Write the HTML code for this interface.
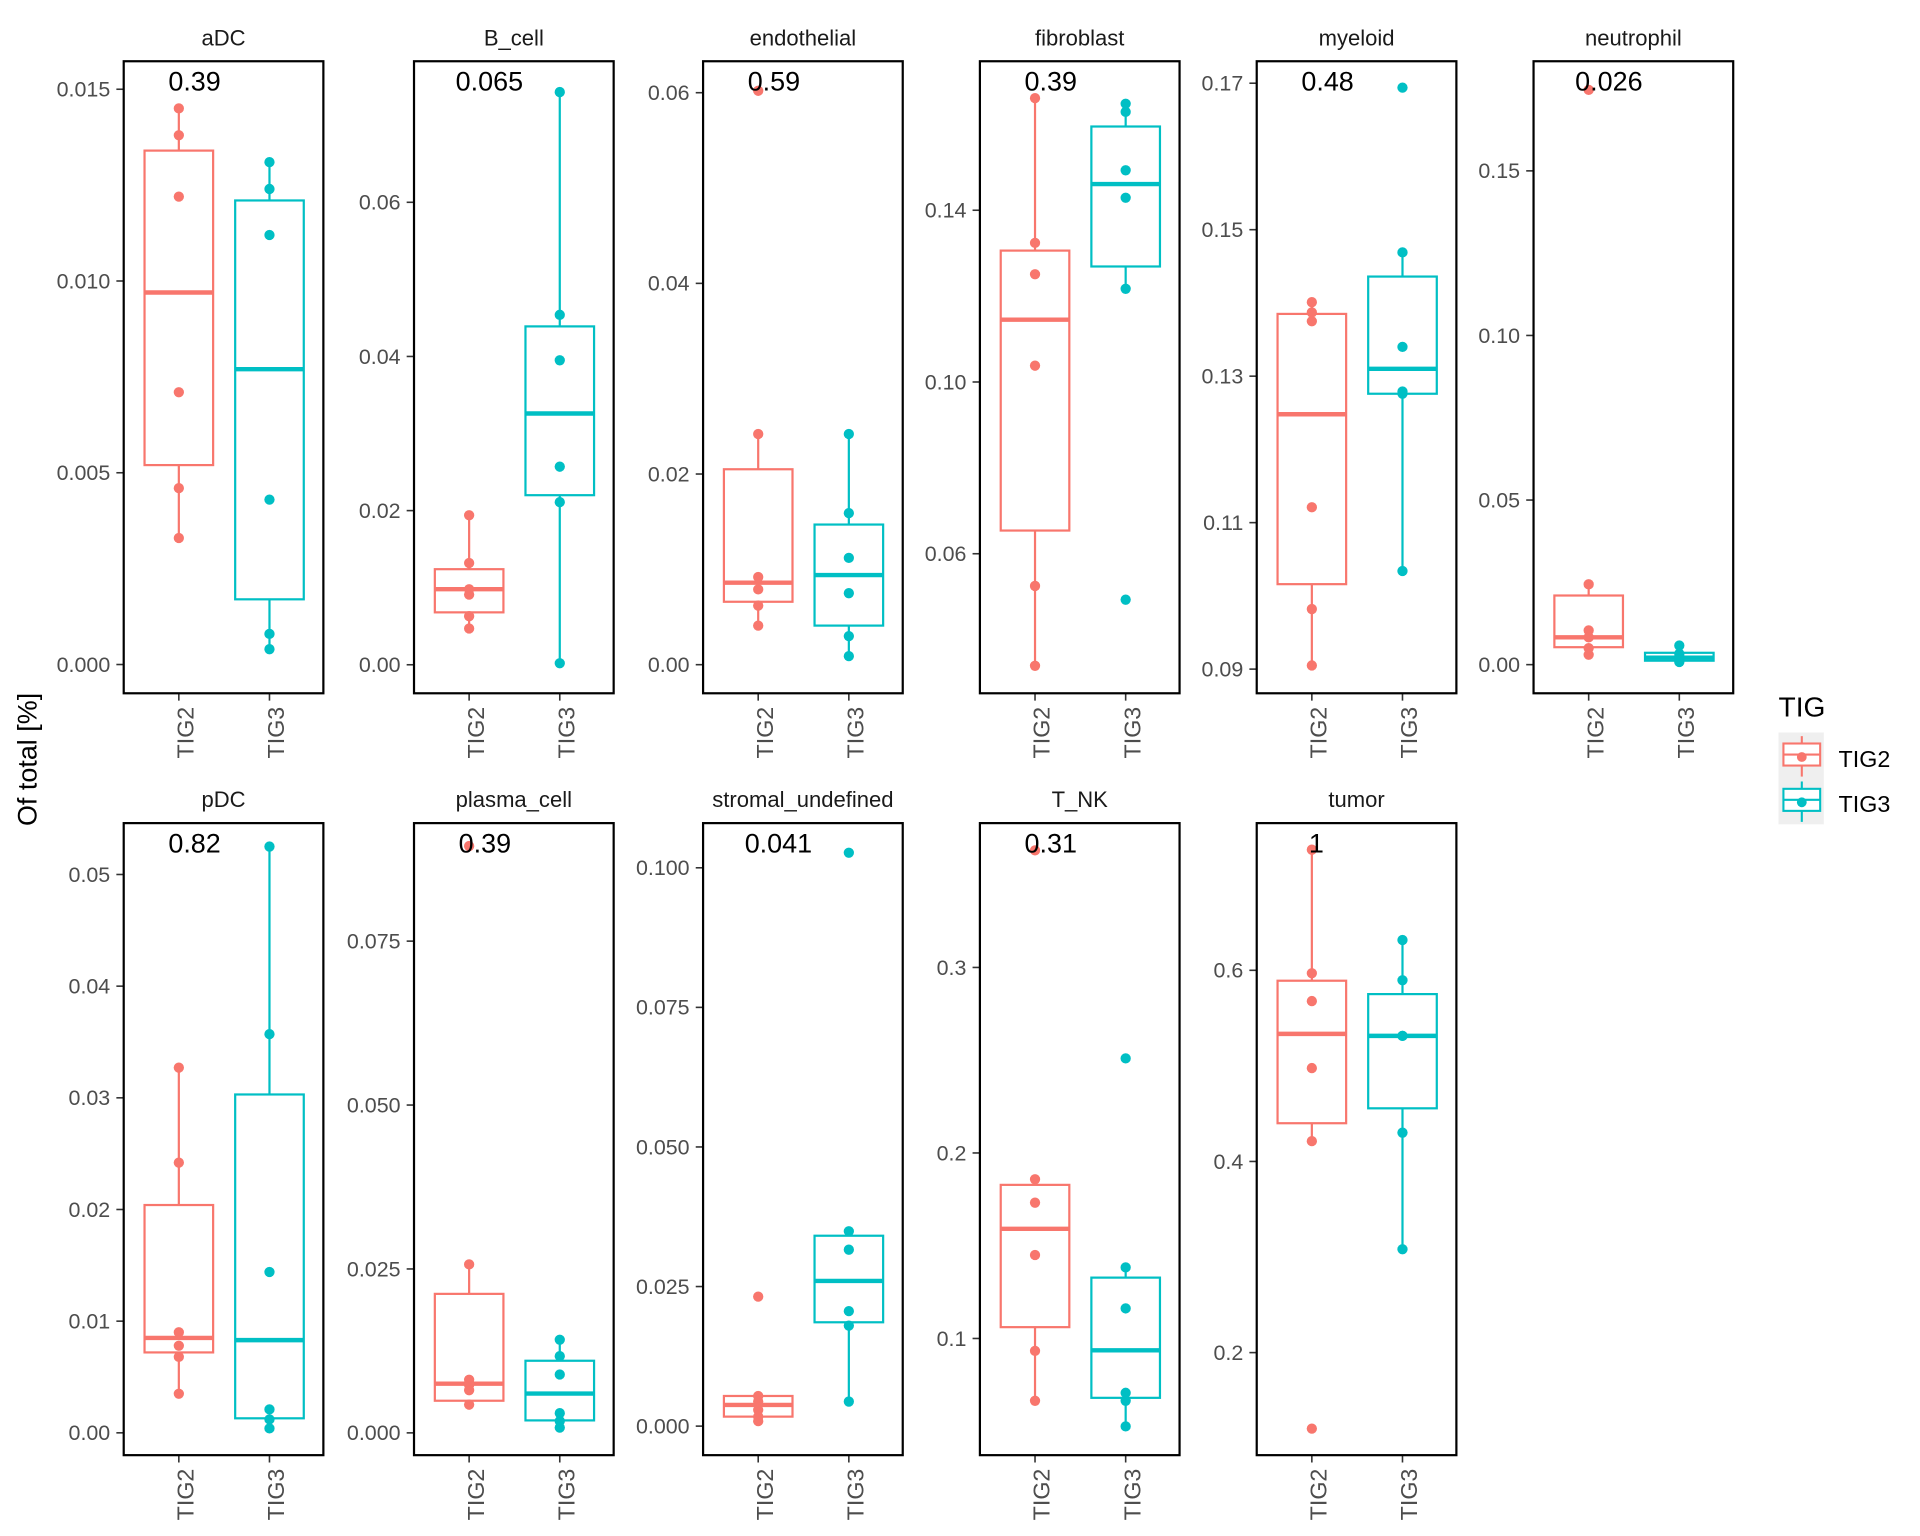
<!DOCTYPE html>
<html><head><meta charset="utf-8"><style>
html,body{margin:0;padding:0;background:#fff;}
svg{display:block;font-family:"Liberation Sans",Arial,sans-serif;}
</style></head><body>
<svg id="chart" width="1920" height="1536" viewBox="0 0 1567.5 1254" preserveAspectRatio="none" xmlns="http://www.w3.org/2000/svg">
<rect x="0" y="0" width="1570" height="1260" fill="#fff"/>
<text x="0" y="0" transform="translate(30,620) rotate(-90)" text-anchor="middle" font-size="22" fill="#000">Of total [%]</text>
<g transform="translate(7,2)">
<text x="1445" y="583" font-size="23" fill="#000">TIG</text>
<rect x="1445" y="596" width="37" height="75" fill="#efefef"/>
<g>
<line x1="1464" y1="599" x2="1464" y2="632" stroke="#F8766D" stroke-width="1.7"/>
<rect x="1449" y="605" width="30" height="18" fill="#fff" stroke="#F8766D" stroke-width="1.7"/>
<line x1="1449" y1="614" x2="1479" y2="614" stroke="#F8766D" stroke-width="1.7"/>
<circle cx="1464" cy="616" r="4" fill="#F8766D"/>
<text x="1494" y="624" font-size="19" fill="#000">TIG2</text>
</g>
<g>
<line x1="1464" y1="636" x2="1464" y2="669" stroke="#00BFC4" stroke-width="1.7"/>
<rect x="1449" y="642" width="30" height="18" fill="#fff" stroke="#00BFC4" stroke-width="1.7"/>
<line x1="1449" y1="651" x2="1479" y2="651" stroke="#00BFC4" stroke-width="1.7"/>
<circle cx="1464" cy="653" r="4" fill="#00BFC4"/>
<text x="1494" y="661" font-size="19" fill="#000">TIG3</text>
</g>
</g>
<g id="panels"></g>
</svg>
<script>
// ---- data ----
const panelNames = ["aDC","B_cell","endothelial","fibroblast","myeloid","neutrophil","pDC","plasma_cell","stromal_undefined","T_NK","tumor"];
const pValues = ["0.39","0.065","0.59","0.39","0.48","0.026","0.82","0.39","0.041","0.31","1"];
const groups = ["TIG2","TIG3"];
const yTicks = [
  [0.000,0.005,0.010,0.015],
  [0.00,0.02,0.04,0.06],
  [0.00,0.02,0.04,0.06],
  [0.06,0.10,0.14],
  [0.09,0.11,0.13,0.15,0.17],
  [0.00,0.05,0.10,0.15],
  [0.00,0.01,0.02,0.03,0.04,0.05],
  [0.000,0.025,0.050,0.075],
  [0.000,0.025,0.050,0.075,0.100],
  [0.1,0.2,0.3],
  [0.2,0.4,0.6]
];
const yTickLabels = [
  ["0.000","0.005","0.010","0.015"],
  ["0.00","0.02","0.04","0.06"],
  ["0.00","0.02","0.04","0.06"],
  ["0.06","0.10","0.14"],
  ["0.09","0.11","0.13","0.15","0.17"],
  ["0.00","0.05","0.10","0.15"],
  ["0.00","0.01","0.02","0.03","0.04","0.05"],
  ["0.000","0.025","0.050","0.075"],
  ["0.000","0.025","0.050","0.075","0.100"],
  ["0.1","0.2","0.3"],
  ["0.2","0.4","0.6"]
];
const yRanges = [
  [-0.00075,0.01573],[-0.0037,0.0783],[-0.0030,0.0633],[0.0275,0.1747],[0.0867,0.1730],
  [-0.0087,0.1833],[-0.0020,0.0546],[-0.0034,0.0930],[-0.0052,0.1080],[0.0371,0.3778],[0.0927,0.7540]
];
const tig2Points = [
  [0.0145,0.0138,0.0122,0.0071,0.0046,0.0033],
  [0.0194,0.0132,0.0098,0.0091,0.0063,0.0047],
  [0.0602,0.0242,0.0092,0.0079,0.0062,0.0041],
  [0.1661,0.1324,0.1251,0.1038,0.0525,0.0339],
  [0.1401,0.1387,0.1375,0.1121,0.0982,0.0905],
  [0.1746,0.0244,0.0104,0.0083,0.0050,0.0030],
  [0.0327,0.0242,0.0090,0.0078,0.0068,0.0035],
  [0.0895,0.0257,0.0081,0.0073,0.0065,0.0043],
  [0.0232,0.0054,0.0044,0.0029,0.0017,0.0009],
  [0.3631,0.1858,0.1732,0.1450,0.0933,0.0664],
  [0.7262,0.5969,0.5678,0.4977,0.4213,0.1205]
];
const tig3Points = [
  [0.0131,0.0124,0.0112,0.0043,0.0008,0.0004],
  [0.0743,0.0454,0.0395,0.0257,0.0211,0.0002],
  [0.0242,0.0159,0.0112,0.0075,0.0030,0.0009],
  [0.1648,0.1629,0.1493,0.1429,0.1217,0.0493],
  [0.1694,0.1469,0.1340,0.1279,0.1276,0.1034],
  [0.0058,0.0033,0.0025,0.0017,0.0012,0.0008],
  [0.0525,0.0357,0.0144,0.0021,0.0012,0.0004],
  [0.0142,0.0117,0.0089,0.0030,0.0018,0.0008],
  [0.1027,0.0349,0.0316,0.0206,0.0180,0.0044],
  [0.2510,0.1383,0.1162,0.0707,0.0664,0.0526],
  [0.6317,0.5896,0.5314,0.5314,0.4301,0.3081]
];
// box stats: [lowWhisker, q1, median, q3, highWhisker]
const tig2Box = [
  [0.0033,0.0052,0.0097,0.0134,0.0145],
  [0.0047,0.0068,0.0098,0.0124,0.0194],
  [0.0041,0.0066,0.0086,0.0205,0.0242],
  [0.0339,0.0654,0.1145,0.1306,0.1661],
  [0.0905,0.1016,0.1248,0.1385,0.1401],
  [0.0030,0.0053,0.0083,0.0210,0.0244],
  [0.0035,0.0072,0.0085,0.0204,0.0327],
  [0.0043,0.0049,0.0075,0.0212,0.0257],
  [0.0009,0.0017,0.0038,0.0054,0.0054],
  [0.0664,0.1061,0.1591,0.1828,0.1858],
  [0.4213,0.4400,0.5335,0.5891,0.7262]
];
const tig3Box = [
  [0.0004,0.0017,0.0077,0.0121,0.0131],
  [0.0002,0.0220,0.0326,0.0439,0.0743],
  [0.0009,0.0041,0.0094,0.0147,0.0242],
  [0.1217,0.1269,0.1461,0.1595,0.1648],
  [0.1034,0.1276,0.1310,0.1436,0.1469],
  [0.0008,0.0012,0.0021,0.0036,0.0058],
  [0.0004,0.0013,0.0083,0.0303,0.0525],
  [0.0008,0.0019,0.0060,0.0110,0.0142],
  [0.0044,0.0186,0.0260,0.0341,0.0349],
  [0.0526,0.0680,0.0936,0.1328,0.1383],
  [0.3081,0.4556,0.5314,0.5751,0.6317]
];

// ---- layout ----
const NS = "http://www.w3.org/2000/svg";
const colors = ["#F8766D","#00BFC4"];
const colLefts = [101,338,574,800,1026,1252];
const rowTops = [50,672];
const PW = 163, PH = 516;
const root = document.getElementById("panels");
function mk(tag, attrs, parent){
  const e = document.createElementNS(NS, tag);
  for (const k in attrs) e.setAttribute(k, attrs[k]);
  parent.appendChild(e);
  return e;
}
panelNames.forEach((name, i) => {
  const row = i < 6 ? 0 : 1;
  const col = i < 6 ? i : i - 6;
  const L = colLefts[col], T = rowTops[row];
  const [lo, hi] = yRanges[i];
  const yS = v => T + PH - (v - lo) / (hi - lo) * PH;
  const xS = g => L + 45 + g * 74;
  const g = mk("g", {}, root);
  
  
  const title = mk("text", {x: L + PW/2, y: T - 13, "text-anchor":"middle", "font-size":"18", fill:"#1a1a1a"}, g);
  title.textContent = name;
  
  
  yTicks[i].forEach((t, j) => {
    const y = yS(t);
    mk("line", {x1: L - 6, x2: L, y1: y, y2: y, stroke:"#333", "stroke-width":"1.3"}, g);
    const lb = mk("text", {x: L - 11, y: y + 6, "text-anchor":"end", "font-size":"17.5", fill:"#4d4d4d"}, g);
    lb.textContent = yTickLabels[i][j];
    
    
  });
  groups.forEach((gn, k) => {
    const x = xS(k);
    mk("line", {x1: x, x2: x, y1: T + PH, y2: T + PH + 6, stroke:"#333", "stroke-width":"1.3"}, g);
    const lb = mk("text", {x: 0, y: 0, transform:`translate(${x + 12},${T + PH + 11}) rotate(-90)`, "text-anchor":"end", "font-size":"19", fill:"#4d4d4d"}, g);
    lb.textContent = gn;
    
    
  });
  [tig2Box[i], tig3Box[i]].forEach((b, k) => {
    const x = xS(k), c = colors[k];
    const bg = mk("g", {}, g);
    
    
    mk("line", {x1: x, x2: x, y1: yS(b[3]), y2: yS(b[4]), stroke: c, "stroke-width":"1.8"}, bg);
    mk("line", {x1: x, x2: x, y1: yS(b[1]), y2: yS(b[0]), stroke: c, "stroke-width":"1.8"}, bg);
    mk("rect", {x: x - 28, y: yS(b[3]), width: 56, height: Math.max(0.5, yS(b[1]) - yS(b[3])), fill:"#fff", stroke: c, "stroke-width":"1.8"}, bg);
    mk("line", {x1: x - 28, x2: x + 28, y1: yS(b[2]), y2: yS(b[2]), stroke: c, "stroke-width":"3.6"}, bg);
  });
  [tig2Points[i], tig3Points[i]].forEach((pts, k) => {
    pts.forEach(v => {
      const p = mk("circle", {cx: xS(k), cy: yS(v), r: 4.2, fill: colors[k]}, g);
      
      
    });
  });
  mk("rect", {x: L, y: T, width: PW, height: PH, fill:"none", stroke:"#000", "stroke-width":"1.8"}, g);
  const pv = mk("text", {x: xS(0), y: T + 24, "font-size":"22", fill:"#000"}, g);
  pv.textContent = pValues[i];
  
  
  const w = pv.getComputedTextLength();
  pv.setAttribute("x", xS(0) - 0.2 * w);
});
</script>
</body></html>
